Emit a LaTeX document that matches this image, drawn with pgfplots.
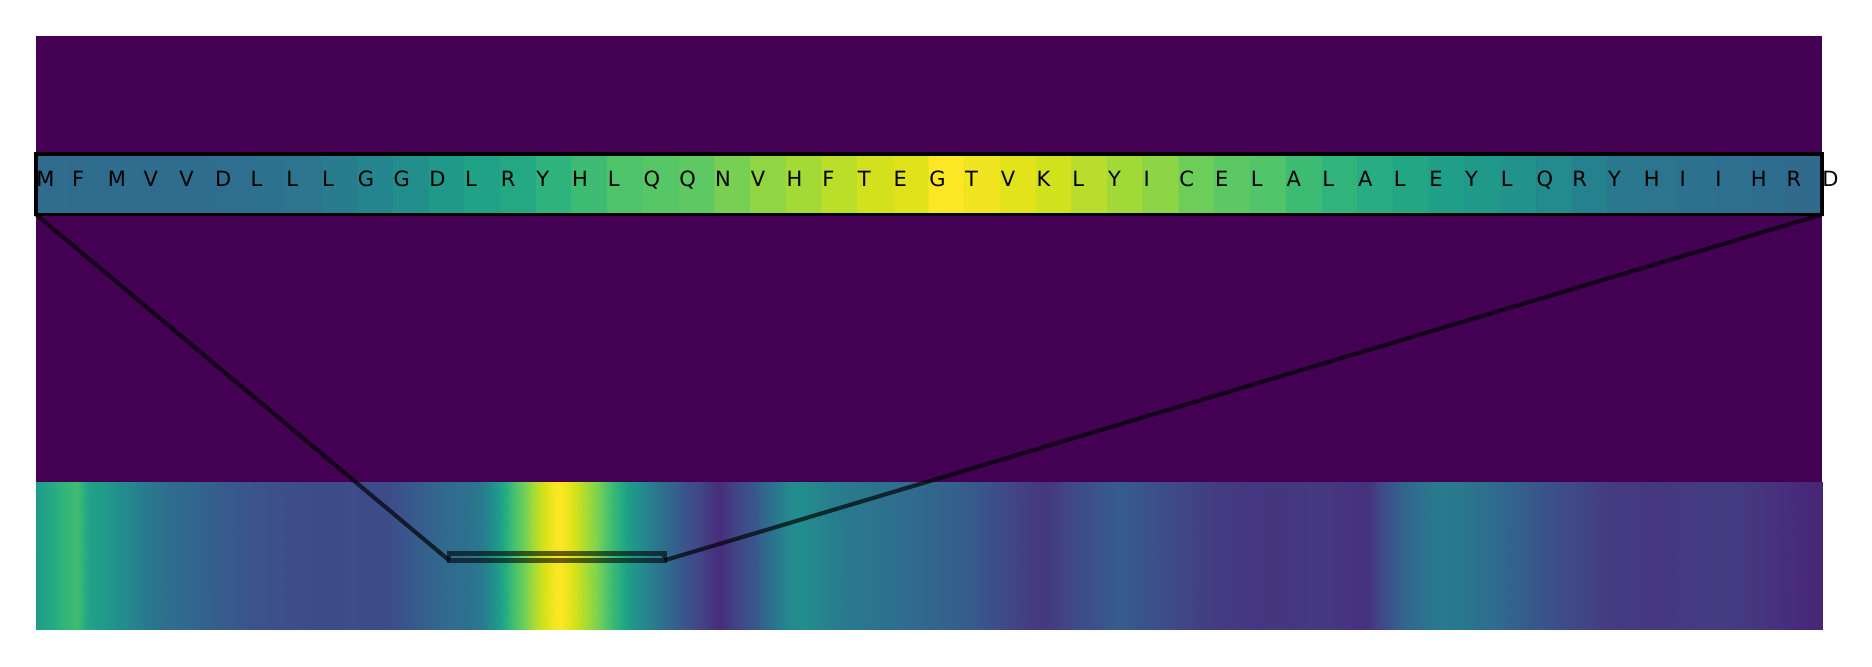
\documentclass[border=0pt]{standalone}
\usepackage{fontspec}
\setmainfont{DejaVu Sans}
\usepackage{pgfplots}
\usepackage{pgfplotstable}
\pgfplotsset{compat=1.18}
\definecolor{vir0}{RGB}{68,1,84}
\pgfplotsset{colormap={myvir}{rgb255=(68,1,84) rgb255=(72,26,108) rgb255=(71,47,125) rgb255=(65,68,135) rgb255=(59,82,139) rgb255=(51,99,141) rgb255=(44,114,142) rgb255=(38,130,142) rgb255=(33,145,140) rgb255=(31,160,136) rgb255=(40,174,128) rgb255=(63,188,115) rgb255=(94,201,98) rgb255=(132,212,75) rgb255=(173,220,48) rgb255=(216,226,25) rgb255=(253,231,37)}}

% full-length profile (residue position, value)
\pgfplotstableread{
x v
0 0.54
3.3 0.60
6.3 0.65
9.5 0.69
12.6 0.57
15.6 0.54
18.8 0.50
21.8 0.46
24.9 0.41
28.1 0.38
31.1 0.35
35.8 0.33
40.4 0.30
45.1 0.28
49.7 0.26
54.4 0.245
60.7 0.23
65.3 0.215
69.9 0.22
76.0 0.225
82.3 0.225
85.3 0.26
88.5 0.285
91.6 0.31
94.6 0.34
97.8 0.355
100.8 0.375
103.9 0.41
106.2 0.50
108.5 0.59
110.8 0.70
113.2 0.77
115.5 0.86
117.8 0.93
120.1 0.98
121.8 1.00
123.4 0.97
125.7 0.92
128.0 0.86
130.4 0.80
132.7 0.72
135.0 0.645
138.0 0.54
141.0 0.47
144.3 0.39
147.3 0.325
150.3 0.265
153.6 0.205
156.6 0.15
158.9 0.12
161.3 0.165
164.3 0.22
167.5 0.28
168.9 0.325
172.2 0.40
175.2 0.47
178.2 0.485
181.5 0.455
184.5 0.425
189.1 0.40
193.8 0.385
198.4 0.365
203.1 0.345
207.7 0.325
212.4 0.305
217.0 0.285
221.7 0.24
226.3 0.195
231.0 0.165
234.0 0.15
237.2 0.17
241.9 0.215
246.5 0.255
251.2 0.29
254.2 0.275
258.9 0.245
263.5 0.215
268.1 0.19
272.8 0.165
277.4 0.155
282.1 0.15
286.7 0.145
291.4 0.147
296.0 0.155
300.7 0.147
305.3 0.14
309.3 0.13
311.6 0.18
314.6 0.26
317.6 0.315
320.9 0.355
323.9 0.39
326.9 0.41
330.2 0.40
333.2 0.38
337.8 0.355
342.5 0.315
347.1 0.28
351.8 0.245
356.4 0.21
361.1 0.185
364.1 0.165
370.4 0.155
376.7 0.15
382.7 0.155
387.3 0.16
392.0 0.165
396.6 0.155
401.3 0.14
405.9 0.125
410.6 0.11
415 0.10
}\bottomtab

% 50-residue window (cell centre, value)
\pgfplotstableread{
x v
0.5 0.35
1.5 0.35
2.5 0.35
3.5 0.35
4.5 0.355
5.5 0.36
6.5 0.375
7.5 0.39
8.5 0.41
9.5 0.45
10.5 0.49
11.5 0.53
12.5 0.57
13.5 0.60
14.5 0.645
15.5 0.685
16.5 0.72
17.5 0.735
18.5 0.75
19.5 0.79
20.5 0.83
21.5 0.86
22.5 0.895
23.5 0.93
24.5 0.95
25.5 1.00
26.5 0.98
27.5 0.955
28.5 0.925
29.5 0.89
30.5 0.855
31.5 0.825
32.5 0.775
33.5 0.745
34.5 0.725
35.5 0.685
36.5 0.65
37.5 0.62
38.5 0.59
39.5 0.555
40.5 0.53
41.5 0.505
42.5 0.47
43.5 0.435
44.5 0.40
45.5 0.385
46.5 0.375
47.5 0.36
48.5 0.355
49.5 0.34
}\toptab

\pgfplotstableread{
x y aa
0 0.455 M
1 0.455 F
2 0.455 M
3 0.455 V
4 0.455 V
5 0.455 D
6 0.455 L
7 0.455 L
8 0.455 L
9 0.455 G
10 0.455 G
11 0.455 D
12 0.455 L
13 0.455 R
14 0.455 Y
15 0.455 H
16 0.455 L
17 0.455 Q
18 0.455 Q
19 0.455 N
20 0.455 V
21 0.455 H
22 0.455 F
23 0.455 T
24 0.455 E
25 0.455 G
26 0.455 T
27 0.455 V
28 0.455 K
29 0.455 L
30 0.455 Y
31 0.455 I
32 0.455 C
33 0.455 E
34 0.455 L
35 0.455 A
36 0.455 L
37 0.455 A
38 0.455 L
39 0.455 E
40 0.455 Y
41 0.455 L
42 0.455 Q
43 0.455 R
44 0.455 Y
45 0.455 H
46 0.455 I
47 0.455 I
48 0.455 H
49 0.455 R
50 0.455 D
}\letters

\pgfplotstablevertcat{\bottwo}{\bottomtab}
\pgfplotstablevertcat{\bottwo}{\bottomtab}
\pgfplotstablegetrowsof{\bottomtab}
\pgfmathtruncatemacro\nbot{\pgfplotsretval}
\pgfplotstablevertcat{\toptwo}{\toptab}
\pgfplotstablevertcat{\toptwo}{\toptab}

\begin{document}
\begin{tikzpicture}
\useasboundingbox (0,0) rectangle (936pt,333.5pt);
\fill[vir0] (18pt,18.5pt) rectangle (911pt,315.5pt);
\begin{axis}[at={(18pt,18.5pt)}, anchor=south west, scale only axis,
  width=893pt, height=297pt, xmin=0, xmax=415, ymin=0, ymax=594,
  hide axis, enlargelimits=false, colormap name=myvir,
  point meta min=0, point meta max=1]
\addplot[surf, shader=interp, mesh/rows=2, point meta=explicit]
  table[x=x, y expr={\coordindex<\nbot ? 0 : 148}, meta=v] {\bottwo};
\draw[black, draw opacity=0.6, line width=2.3pt] (axis cs:96,69.6) rectangle (axis cs:146,76.5);
\coordinate (rl) at (axis cs:96,69.6);
\coordinate (rr) at (axis cs:146,69.6);
\end{axis}
\begin{axis}[at={(18pt,226.25pt)}, anchor=south west, scale only axis,
  width=893pt, height=30.25pt, xmin=0, xmax=50, ymin=0, ymax=1,
  hide axis, enlargelimits=false, clip=false, colormap name=myvir,
  point meta min=0, point meta max=1]
\addplot[matrix plot*, mesh/cols=50, point meta=explicit]
  table[x=x, y expr={\coordindex<50 ? 0.25 : 0.75}, meta=v] {\toptwo};
\draw[black, line width=1.8pt] (axis cs:0,0) rectangle (axis cs:50,1);
\addplot[only marks, mark=none, nodes near coords, point meta=explicit symbolic,
  nodes near coords style={anchor=base west, inner sep=0pt, text=black,
  font=\fontsize{10.5pt}{12pt}\selectfont}]
  table[x=x, y=y, meta=aa] {\letters};
\coordinate (tl) at (axis cs:0,0);
\coordinate (tr) at (axis cs:50,0);
\end{axis}
\draw[black, draw opacity=0.68, line width=2.05pt] (tl) -- (rl);
\draw[black, draw opacity=0.68, line width=2.05pt] (tr) -- (rr);
\end{tikzpicture}
\end{document}
